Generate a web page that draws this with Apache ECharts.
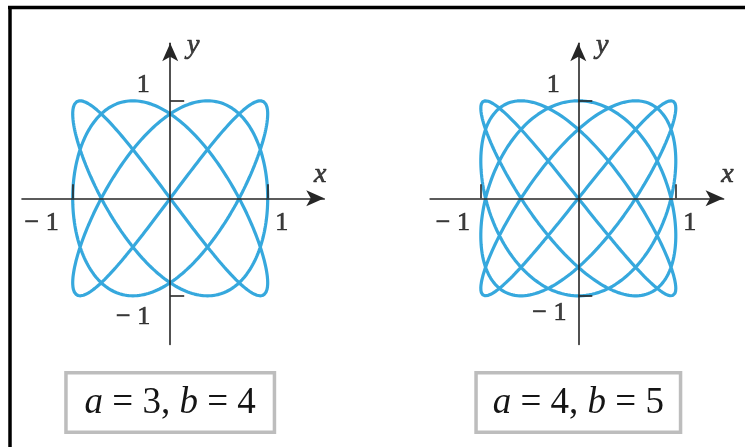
<!DOCTYPE html>
<html>
<head>
<meta charset="utf-8">
<script src="https://cdn.jsdelivr.net/npm/echarts@6/dist/echarts.min.js"></script>
<style>
  html, body { margin: 0; padding: 0; background: #fff; }
  #chart { width: 745px; height: 447px; }
</style>
</head>
<body>
<div id="chart"></div>
<script>
// Two Lissajous figures x = sin(a·t), y = sin(b·t), one per panel.
const paramA = [3, 4];
const paramB = [4, 5];
const tickValues = [-1, 1];
const tickText = ['\u2212 1', '1'];
const axisNames = ['x', 'y'];

const SAMPLES = 1600;
function lissajous(a, b) {
  const pts = [];
  for (let i = 0; i <= SAMPLES; i++) {
    const t = 2 * Math.PI * i / SAMPLES;
    pts.push([Math.sin(a * t), Math.sin(b * t)]);
  }
  return pts;
}

const SERIF = "'Liberation Serif', 'DejaVu Serif', serif";
const INK = '#111';
const AXIS = '#262626';
const CURVE = '#36a8dd';
const UNIT = 97.5;          // pixels per unit on both axes
const ORIGIN_Y = 198.3;
const Y_MIN = -1.5, Y_MAX = 1.59;

// per-panel placement and label offsets (pixels from the tick / axis end)
const panels = [
  { ox: 170.2, xMin: -1.52, xMax: 1.58, boxW: 212,
    xNeg: [-31, 25], xPos: [14, 25], yPos: [-27, -16], yNeg: [-37, 21], xName: [-4, -24], yName: [23, 2] },
  { ox: 578.3, xMin: -1.52, xMax: 1.49, boxW: 208,
    xNeg: [-28, 25], xPos: [14, 25], yPos: [-25, -16], yNeg: [-29, 17], xName: [4, -24], yName: [24, 2] }
];

const lineStyle = { color: AXIS, width: 1.6 };

const grids = [], xAxes = [], yAxes = [], series = [], graphics = [];

function textPoint(value, text, offset, italic, size) {
  return {
    value: value,
    label: {
      show: true, position: 'inside', offset: offset,
      formatter: text,
      fontFamily: SERIF, fontSize: size || 26, color: INK,
      fontStyle: italic ? 'italic' : 'normal',
      textBorderColor: INK, textBorderWidth: 0.7, textShadowBlur: 0,
      align: 'center', verticalAlign: 'middle'
    }
  };
}

panels.forEach((p, k) => {
  grids.push({
    left: p.ox + p.xMin * UNIT,
    width: (p.xMax - p.xMin) * UNIT,
    top: ORIGIN_Y - Y_MAX * UNIT,
    height: (Y_MAX - Y_MIN) * UNIT,
    containLabel: false,
    outerBoundsMode: 'none'
  });

  xAxes.push({
    gridIndex: k, type: 'value', min: p.xMin, max: p.xMax, z: 5,
    axisLine: { onZero: true, symbol: ['none', 'arrow'], symbolSize: [12, 18], lineStyle },
    axisTick: { customValues: tickValues, inside: true, length: 14, lineStyle },
    axisLabel: { show: false },
    splitLine: { show: false }
  });

  yAxes.push({
    gridIndex: k, type: 'value', min: Y_MIN, max: Y_MAX, z: 5,
    axisLine: { onZero: true, symbol: ['none', 'arrow'], symbolSize: [12, 18], lineStyle },
    axisTick: { customValues: tickValues, inside: true, length: 14, lineStyle },
    axisLabel: { show: false },
    splitLine: { show: false }
  });

  series.push({
    type: 'line', xAxisIndex: k, yAxisIndex: k,
    data: lissajous(paramA[k], paramB[k]),
    showSymbol: false, symbol: 'none', smooth: false,
    lineStyle: { color: CURVE, width: 3.2 },
    silent: true, z: 1
  });

  // tick numbers and axis letters, anchored at their axis positions
  series.push({
    type: 'scatter', xAxisIndex: k, yAxisIndex: k,
    symbolSize: 0, silent: true, z: 6,
    itemStyle: { color: 'transparent' },
    data: [
      textPoint([tickValues[0], 0], tickText[0], p.xNeg),
      textPoint([tickValues[1], 0], tickText[1], p.xPos),
      textPoint([0, tickValues[1]], tickText[1], p.yPos),
      textPoint([0, tickValues[0]], tickText[0], p.yNeg),
      textPoint([p.xMax, 0], axisNames[0], p.xName, true, 28),
      textPoint([0, Y_MAX], axisNames[1], p.yName, true, 28)
    ]
  });

  // caption box under each panel
  const cx = p.ox, top = 371, h = 63, bw = 3.5;
  graphics.push({
    type: 'rect', silent: true,
    shape: { x: cx - p.boxW / 2 + bw / 2, y: top + bw / 2, width: p.boxW - bw, height: h - bw },
    style: { fill: 'transparent', stroke: '#bdbdbd', lineWidth: bw }
  });
  const tok = { fontFamily: SERIF, fontSize: 37, color: '#151515' };
  graphics.push({
    type: 'text', silent: true, x: cx, y: top + h / 2 + 1,
    style: {
      text: '{i|a}{n| = ' + paramA[k] + ', }{i|b}{n| = ' + paramB[k] + '}',
      rich: { i: Object.assign({ fontStyle: 'italic' }, tok), n: tok },
      align: 'center', verticalAlign: 'middle',
      textAlign: 'center', textVerticalAlign: 'middle',
      fontFamily: SERIF, fontSize: 37, fill: '#151515'
    }
  });
});

// page frame: heavy rule on top and left
graphics.push({ type: 'line', silent: true, shape: { x1: 8, y1: 7.5, x2: 745, y2: 7.5 }, style: { stroke: '#000', lineWidth: 3.5 } });
graphics.push({ type: 'line', silent: true, shape: { x1: 10, y1: 6, x2: 10, y2: 447 }, style: { stroke: '#000', lineWidth: 3.5 } });

const chart = echarts.init(document.getElementById('chart'), null, { renderer: 'canvas' });
chart.setOption({
  animation: false,
  backgroundColor: '#fff',
  grid: grids,
  xAxis: xAxes,
  yAxis: yAxes,
  series: series,
  graphic: graphics
});
</script>
</body>
</html>
